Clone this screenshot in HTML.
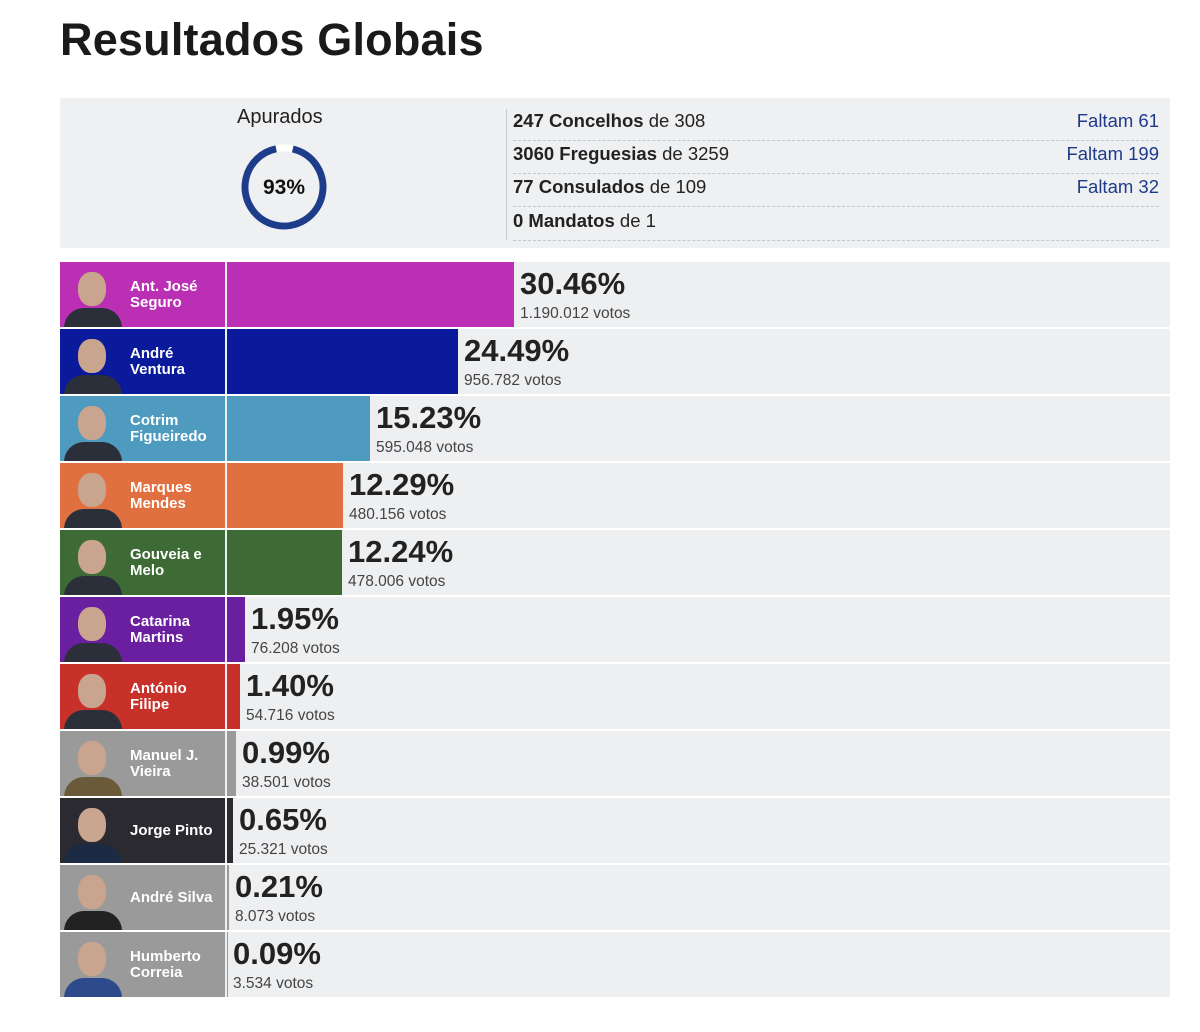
<!DOCTYPE html>
<html><head><meta charset="utf-8"><style>
*{margin:0;padding:0;box-sizing:border-box}
body{width:1200px;height:1032px;background:#fff;font-family:"Liberation Sans",sans-serif;position:relative;overflow:hidden;color:#222}
.abs{position:absolute}
h1{position:absolute;left:60px;top:14px;font-size:45px;font-weight:bold;color:#1a1a1a;letter-spacing:0.2px}
.panel{position:absolute;left:60px;top:98px;width:1110px;height:150px;background:#eff0f2}
.st{position:absolute;left:513px;width:646px;height:33px;border-bottom:1px dashed #c4c6ca;font-size:18.5px;line-height:26px;color:#222}
.st b{font-weight:bold}
.st span{position:absolute;right:0;top:0;color:#1f3a8a}
.row{position:absolute;left:60px;width:1110px;height:65px;background:#eeeff1}
.lab{position:absolute;left:0;top:0;width:165px;height:65px}
.ph{position:absolute;left:2px;top:4px;width:62px;height:61px;overflow:hidden}
.ph .h{position:absolute;left:16px;top:6px;width:28px;height:34px;border-radius:45%;background:#c9a48e}
.ph .b{position:absolute;left:2px;top:42px;width:58px;height:30px;border-radius:20px 20px 0 0;background:#2b2f3a}
.nm{position:absolute;left:70px;top:0;height:65px;display:flex;align-items:center;color:#fff;font-size:15px;font-weight:bold;line-height:16px}
.bar{position:absolute;left:167px;top:0;height:65px}
.pc{position:absolute;top:4px;font-size:31px;font-weight:bold;color:#222}
.vt{position:absolute;top:43px;font-size:15.5px;color:#444}
</style></head><body>
<h1>Resultados Globais</h1>
<div class="panel"></div>
<div class="abs" style="left:237px;top:106px;font-size:20px;color:#222">Apurados</div>
<svg class="abs" style="left:240px;top:143px" width="88" height="88" viewBox="0 0 88 88">
<circle cx="44" cy="44" r="39" fill="none" stroke="#fff" stroke-width="7"/>
<circle cx="44" cy="44" r="39" fill="none" stroke="#1d3c8a" stroke-width="7" stroke-dasharray="227.9 245" transform="rotate(-77 44 44)"/>
<text x="44" y="51" text-anchor="middle" font-family="Liberation Sans" font-weight="bold" font-size="21" fill="#111">93%</text>
</svg>
<div class="abs" style="left:506px;top:109px;width:1px;height:131px;background:#c8c9cc"></div>
<div class="st" style="top:108px"><b>247 Concelhos</b> de 308<span>Faltam 61</span></div>
<div class="st" style="top:141px"><b>3060 Freguesias</b> de 3259<span>Faltam 199</span></div>
<div class="st" style="top:174px"><b>77 Consulados</b> de 109<span>Faltam 32</span></div>
<div class="st" style="top:208px"><b>0 Mandatos</b> de 1</div>

<div class="row" style="top:262px"><div class="lab" style="background:#bb2fb4"><div class="ph"><div class="h"></div><div class="b"></div></div><div class="nm">Ant. José<br>Seguro</div></div><div class="bar" style="width:287px;background:#bb2fb4"></div><div class="pc" style="left:460px">30.46%</div><div class="vt" style="left:460px">1.190.012 votos</div></div>
<div class="row" style="top:329px"><div class="lab" style="background:#0a1a9a"><div class="ph"><div class="h"></div><div class="b"></div></div><div class="nm">André<br>Ventura</div></div><div class="bar" style="width:231px;background:#0a1a9a"></div><div class="pc" style="left:404px">24.49%</div><div class="vt" style="left:404px">956.782 votos</div></div>
<div class="row" style="top:396px"><div class="lab" style="background:#4f9bbf"><div class="ph"><div class="h"></div><div class="b"></div></div><div class="nm">Cotrim<br>Figueiredo</div></div><div class="bar" style="width:143px;background:#4f9bbf"></div><div class="pc" style="left:316px">15.23%</div><div class="vt" style="left:316px">595.048 votos</div></div>
<div class="row" style="top:463px"><div class="lab" style="background:#e07040"><div class="ph"><div class="h"></div><div class="b"></div></div><div class="nm">Marques<br>Mendes</div></div><div class="bar" style="width:116px;background:#e07040"></div><div class="pc" style="left:289px">12.29%</div><div class="vt" style="left:289px">480.156 votos</div></div>
<div class="row" style="top:530px"><div class="lab" style="background:#3e6b35"><div class="ph"><div class="h"></div><div class="b"></div></div><div class="nm">Gouveia e<br>Melo</div></div><div class="bar" style="width:115px;background:#3e6b35"></div><div class="pc" style="left:288px">12.24%</div><div class="vt" style="left:288px">478.006 votos</div></div>
<div class="row" style="top:597px"><div class="lab" style="background:#6a1fa0"><div class="ph"><div class="h"></div><div class="b"></div></div><div class="nm">Catarina<br>Martins</div></div><div class="bar" style="width:18px;background:#6a1fa0"></div><div class="pc" style="left:191px">1.95%</div><div class="vt" style="left:191px">76.208 votos</div></div>
<div class="row" style="top:664px"><div class="lab" style="background:#c8302a"><div class="ph"><div class="h"></div><div class="b"></div></div><div class="nm">António<br>Filipe</div></div><div class="bar" style="width:13px;background:#c8302a"></div><div class="pc" style="left:186px">1.40%</div><div class="vt" style="left:186px">54.716 votos</div></div>
<div class="row" style="top:731px"><div class="lab" style="background:#9a9a9a"><div class="ph"><div class="h"></div><div class="b" style="background:#6a5a3a"></div></div><div class="nm">Manuel J.<br>Vieira</div></div><div class="bar" style="width:9px;background:#9a9a9a"></div><div class="pc" style="left:182px">0.99%</div><div class="vt" style="left:182px">38.501 votos</div></div>
<div class="row" style="top:798px"><div class="lab" style="background:#2a2a30"><div class="ph"><div class="h"></div><div class="b" style="background:#1c2a44"></div></div><div class="nm">Jorge Pinto</div></div><div class="bar" style="width:6px;background:#2a2a30"></div><div class="pc" style="left:179px">0.65%</div><div class="vt" style="left:179px">25.321 votos</div></div>
<div class="row" style="top:865px"><div class="lab" style="background:#9a9a9a"><div class="ph"><div class="h"></div><div class="b" style="background:#222"></div></div><div class="nm">André Silva</div></div><div class="bar" style="width:2px;background:#9a9a9a"></div><div class="pc" style="left:175px">0.21%</div><div class="vt" style="left:175px">8.073 votos</div></div>
<div class="row" style="top:932px"><div class="lab" style="background:#9a9a9a"><div class="ph"><div class="h"></div><div class="b" style="background:#2d4a8a"></div></div><div class="nm">Humberto<br>Correia</div></div><div class="bar" style="width:1px;background:#9a9a9a"></div><div class="pc" style="left:173px">0.09%</div><div class="vt" style="left:173px">3.534 votos</div></div>
</body></html>
